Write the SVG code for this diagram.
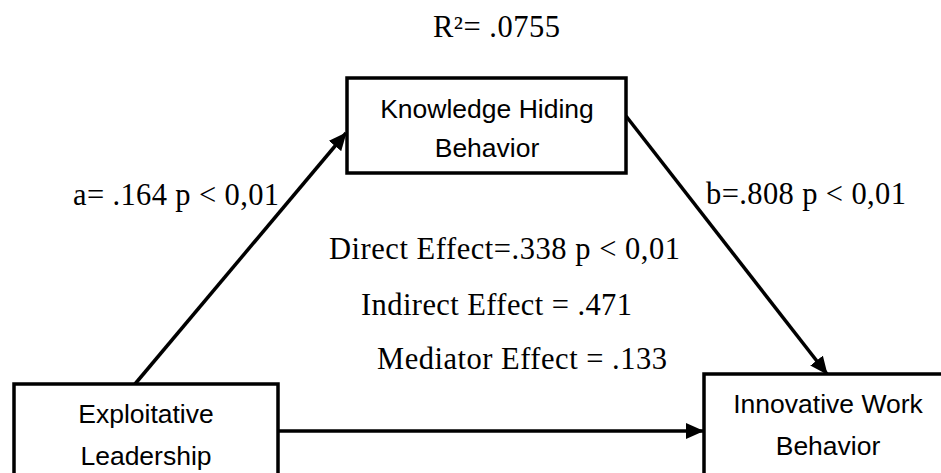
<svg xmlns="http://www.w3.org/2000/svg" width="941" height="473" viewBox="0 0 941 473">
<style>
.box{fill:#fff;stroke:#000;stroke-width:3.5}
.bt{font-family:"Liberation Sans",Arial,sans-serif;font-size:26.5px;fill:#000;text-anchor:middle}
.lt{font-family:"Liberation Serif","Times New Roman",serif;font-size:30.5px;fill:#000}
.edge{stroke:#000;stroke-width:3.5;fill:none}
</style>
<defs>
<marker id="ah" markerUnits="userSpaceOnUse" markerWidth="18" markerHeight="16" refX="17" refY="8" orient="auto">
<path d="M0,0 L18,8 L0,16 Z" fill="#000"/>
</marker>
</defs>
<rect width="941" height="473" fill="#fff"/>
<text class="lt" x="433" y="37" textLength="127" lengthAdjust="spacing">R²= .0755</text>
<g id="connectors">
<line class="edge" x1="135" y1="384" x2="346" y2="133" marker-end="url(#ah)"/>
<line class="edge" x1="626" y1="116" x2="827" y2="374" marker-end="url(#ah)"/>
<line class="edge" x1="278" y1="431" x2="703" y2="431" marker-end="url(#ah)"/>
</g>
<g id="node-khb">
<rect class="box" x="347" y="78" width="279" height="95"/>
<text class="bt" x="487" y="118">Knowledge Hiding</text>
<text class="bt" x="487" y="157">Behavior</text>
</g>
<g id="node-el">
<rect class="box" x="14" y="384" width="264" height="110"/>
<text class="bt" x="146" y="423">Exploitative</text>
<text class="bt" x="146" y="465">Leadership</text>
</g>
<g id="node-iwb">
<rect class="box" x="704" y="374" width="260" height="120"/>
<text class="bt" x="828" y="413">Innovative Work</text>
<text class="bt" x="828" y="455">Behavior</text>
</g>
<g id="labels">
<text class="lt" x="73" y="205" textLength="206" lengthAdjust="spacing">a= .164 p &lt; 0,01</text>
<text class="lt" x="706" y="204" textLength="200" lengthAdjust="spacing">b=.808 p &lt; 0,01</text>
<text class="lt" x="329" y="259" textLength="351" lengthAdjust="spacing">Direct Effect=.338 p &lt; 0,01</text>
<text class="lt" x="361" y="315" textLength="271" lengthAdjust="spacing">Indirect Effect = .471</text>
<text class="lt" x="377" y="369" textLength="290" lengthAdjust="spacing">Mediator Effect = .133</text>
</g>
</svg>
